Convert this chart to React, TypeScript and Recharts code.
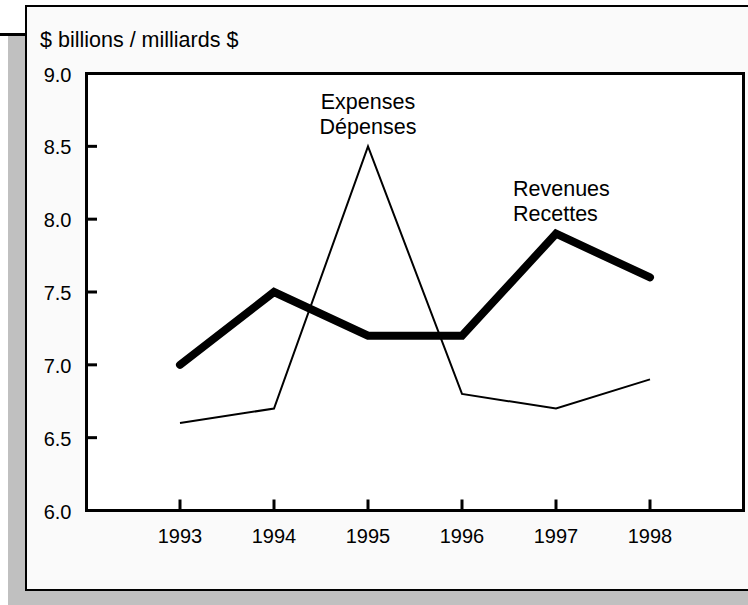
import React from "react";
import { LineChart, Line, XAxis, YAxis, CartesianGrid, ReferenceDot } from "recharts";

const years = ["1993", "1994", "1995", "1996", "1997", "1998"];
const revenues = [7.0, 7.5, 7.2, 7.2, 7.9, 7.6];
const expenses = [6.6, 6.7, 8.5, 6.8, 6.7, 6.9];
const yTicks = [6.0, 6.5, 7.0, 7.5, 8.0, 8.5, 9.0];

const title = "$ billions / milliards $";
const expensesLabel = ["Expenses", "Dépenses"];
const revenuesLabel = ["Revenues", "Recettes"];

const data = years.map((year, i) => ({ year, revenues: revenues[i], expenses: expenses[i] }));

const FONT = '"Liberation Sans", Arial, Helvetica, sans-serif';

function XTick({ x, y, payload }: any) {
  return (
    <g>
      <line x1={x} y1={y} x2={x} y2={y - 11} stroke="#000" strokeWidth={3} />
      <text x={x} y={y + 32.5} textAnchor="middle" fontSize={20} fontFamily={FONT} fill="#000">
        {payload.value}
      </text>
    </g>
  );
}

function YTick({ x, y, payload }: any) {
  return (
    <g>
      <line x1={x} y1={y} x2={x + 10.5} y2={y} stroke="#000" strokeWidth={3} />
      <text x={x - 15} y={y + 8} textAnchor="end" fontSize={20} fontFamily={FONT} fill="#000">
        {Number(payload.value).toFixed(1)}
      </text>
    </g>
  );
}

// two-line text placed relative to a reference point
function Annot({ viewBox, lines, dx, dy, anchor, size = 21.5, gap = 25 }: any) {
  if (!viewBox) return null;
  const x = viewBox.x + dx;
  const y = viewBox.y + dy;
  return (
    <text x={x} y={y} textAnchor={anchor} fontSize={size} fontFamily={FONT} fill="#000">
      {lines.map((l: string, i: number) => (
        <tspan key={i} x={x} y={y + i * gap}>
          {l}
        </tspan>
      ))}
    </text>
  );
}

export default function App() {
  return (
    <div
      style={{
        position: "absolute",
        left: 0,
        top: 0,
        width: 748,
        height: 605,
        overflow: "hidden",
        background: "#fff",
      }}
    >
      {/* drop shadow + little rule at top left */}
      <div style={{ position: "absolute", left: 8, top: 36, width: 800, height: 600, background: "#c0c0c0" }} />
      <div style={{ position: "absolute", left: 0, top: 33, width: 27, height: 3, background: "#000" }} />
      <div
        style={{
          position: "absolute",
          left: 25,
          top: 5,
          width: 800,
          height: 586,
          boxSizing: "border-box",
          border: "2px solid #000",
          background: "#fafafa",
        }}
      />
      <svg style={{ position: "absolute", left: 0, top: 0 }} width={748} height={605}>
        <text x={40} y={47} fontSize={21.5} fontFamily={FONT} fill="#000">
          {title}
        </text>
      </svg>
      <div style={{ position: "absolute", left: 0, top: 0 }}>
        <LineChart
          width={748}
          height={605}
          data={data}
          margin={{ top: 72.5, right: 3.5, bottom: 93.5, left: 85.5 }}
        >
          <CartesianGrid horizontal={false} vertical={false} fill="#fff" />
          <XAxis
            dataKey="year"
            type="category"
            height={1}
            padding={{ left: 93.5, right: 93.5 }}
            axisLine={{ stroke: "#000", strokeWidth: 3, strokeLinecap: "square" }}
            tickLine={false}
            tickSize={0}
            tickMargin={0}
            tick={<XTick />}
            interval={0}
          />
          <XAxis
            xAxisId="top"
            dataKey="year"
            orientation="top"
            height={1}
            axisLine={{ stroke: "#000", strokeWidth: 3, strokeLinecap: "square" }}
            tickLine={false}
            tick={false}
          />
          <YAxis
            type="number"
            domain={[6, 9]}
            ticks={yTicks}
            width={1}
            axisLine={{ stroke: "#000", strokeWidth: 3, strokeLinecap: "square" }}
            tickLine={false}
            tickSize={0}
            tickMargin={0}
            tick={<YTick />}
            interval={0}
          />
          <YAxis
            yAxisId="right"
            orientation="right"
            type="number"
            domain={[6, 9]}
            width={1}
            axisLine={{ stroke: "#000", strokeWidth: 3, strokeLinecap: "square" }}
            tickLine={false}
            tick={false}
          />
          <Line
            type="linear"
            dataKey="expenses"
            stroke="#000"
            strokeWidth={2}
            dot={false}
            activeDot={false}
            isAnimationActive={false}
          />
          <Line
            type="linear"
            dataKey="revenues"
            stroke="#000"
            strokeWidth={8}
            strokeLinecap="round"
            dot={false}
            activeDot={false}
            isAnimationActive={false}
          />
          <ReferenceDot
            x="1995"
            y={8.5}
            r={0}
            fill="none"
            stroke="none"
            label={<Annot lines={expensesLabel} dx={0} dy={-37} anchor="middle" />}
          />
          <ReferenceDot
            x="1997"
            y={7.9}
            r={0}
            fill="none"
            stroke="none"
            label={<Annot lines={revenuesLabel} dx={-43} dy={-38} anchor="start" />}
          />
        </LineChart>
      </div>
    </div>
  );
}
